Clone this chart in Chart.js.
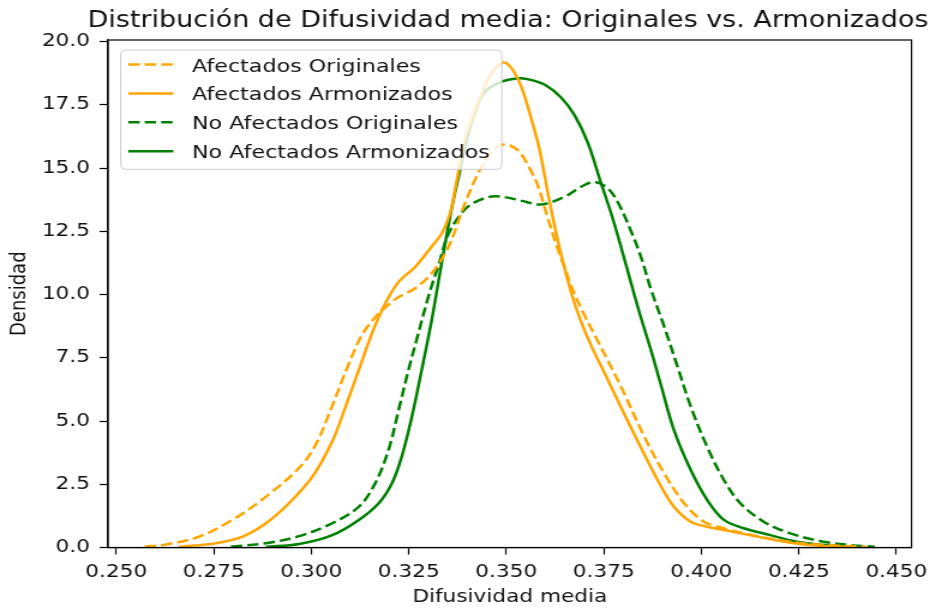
<!DOCTYPE html>
<html>
<head>
<meta charset="utf-8">
<script src="https://cdn.jsdelivr.net/npm/chart.js@4.4.1/dist/chart.umd.min.js"></script>
<style>
html,body{margin:0;padding:0;background:#fff;overflow:hidden}
</style>
</head>
<body>
<canvas id="c" width="780" height="608" style="display:block;width:936px;height:608px"></canvas>
<script>
// ---- texts ----
const titleText = 'Distribución de Difusividad media: Originales vs. Armonizados';
const xTitle = 'Difusividad media';
const yTitle = 'Densidad';
const seriesLabels = ['Afectados Originales', 'Afectados Armonizados', 'No Afectados Originales', 'No Afectados Armonizados'];

// ---- tick values ----
const xTicks = [0.250, 0.275, 0.300, 0.325, 0.350, 0.375, 0.400, 0.425, 0.450];
const yTicks = [0.0, 2.5, 5.0, 7.5, 10.0, 12.5, 15.0, 17.5, 20.0];

// ---- series ----
const aoX = [0.2573,0.2628,0.2713,0.2798,0.2884,0.2969,0.3011,0.3050,0.3096,0.3130,0.3164,0.3198,0.3224,0.3267,0.3309,0.3352,0.3394,0.3428,0.3454,0.3471,0.3500,0.3530,0.3556,0.3581,0.3607,0.3632,0.3650,0.3670,0.3700,0.3730,0.3760,0.3794,0.3854,0.3905,0.3956,0.4007,0.4058,0.4143,0.4228,0.4313,0.4424];
const aoY = [0.03,0.12,0.43,1.09,2.01,3.15,4.05,5.45,7.25,8.40,9.10,9.60,9.90,10.25,10.84,11.89,13.60,14.80,15.45,15.78,15.93,15.70,15.10,14.30,13.00,11.80,11.05,10.20,9.20,8.30,7.40,6.36,4.38,2.93,1.75,1.02,0.76,0.45,0.23,0.10,0.03];

const aaX = [0.2660,0.2756,0.2824,0.2884,0.2943,0.3003,0.3054,0.3088,0.3122,0.3156,0.3190,0.3224,0.3267,0.3309,0.3335,0.3356,0.3373,0.3394,0.3428,0.3462,0.3492,0.3513,0.3539,0.3564,0.3585,0.3610,0.3635,0.3666,0.3690,0.3720,0.3752,0.3786,0.3837,0.3888,0.3930,0.3973,0.4015,0.4058,0.4143,0.4228,0.4313,0.4398];
const aaY = [0.02,0.17,0.43,0.96,1.75,2.80,4.20,5.57,7.02,8.47,9.65,10.50,11.10,11.90,12.42,13.21,14.50,16.11,17.56,18.74,19.17,18.96,18.20,16.95,15.75,13.75,11.95,10.10,9.00,7.90,6.90,5.80,4.20,2.67,1.61,1.02,0.82,0.69,0.43,0.19,0.06,0.02];

const noX = [0.2794,0.2884,0.2969,0.3054,0.3122,0.3164,0.3198,0.3224,0.3249,0.3270,0.3301,0.3326,0.3352,0.3390,0.3420,0.3462,0.3500,0.3540,0.3590,0.3650,0.3692,0.3726,0.3760,0.3786,0.3820,0.3845,0.3871,0.3905,0.3939,0.3973,0.4015,0.4058,0.4100,0.4160,0.4228,0.4313,0.4381,0.4445];
const noY = [0.03,0.17,0.45,0.96,1.61,2.54,3.85,5.43,7.00,8.20,9.95,11.15,12.40,13.30,13.65,13.87,13.84,13.70,13.56,13.87,14.26,14.45,14.20,13.65,12.50,11.50,10.20,8.73,7.15,5.57,3.98,2.67,1.75,1.02,0.56,0.23,0.10,0.03];

const naX = [0.2884,0.2969,0.3054,0.3122,0.3173,0.3207,0.3232,0.3258,0.3283,0.3309,0.3335,0.3360,0.3382,0.3400,0.3420,0.3445,0.3488,0.3535,0.3564,0.3600,0.3640,0.3675,0.3709,0.3743,0.3769,0.3794,0.3820,0.3845,0.3871,0.3896,0.3930,0.3973,0.4015,0.4058,0.4109,0.4177,0.4245,0.4313,0.4381];
const naY = [0.03,0.14,0.49,1.09,1.75,2.54,3.59,5.17,7.00,9.00,11.30,13.40,14.95,16.20,17.20,18.00,18.41,18.55,18.48,18.28,17.80,17.09,16.00,14.40,13.20,11.89,10.45,9.10,7.80,6.45,4.64,3.06,1.88,1.09,0.76,0.49,0.23,0.10,0.03];

const ORANGE = '#ffa500';
const GREEN = '#008000';
const DASH = [9.5, 4.2];
const FONT = 'DejaVu Sans';

const toPts = (xs, ys) => xs.map((x, i) => ({x: x, y: ys[i]}));

const datasets = [
  {label: seriesLabels[0], data: toPts(aoX, aoY), borderColor: ORANGE, borderDash: DASH},
  {label: seriesLabels[1], data: toPts(aaX, aaY), borderColor: ORANGE, borderDash: []},
  {label: seriesLabels[2], data: toPts(noX, noY), borderColor: GREEN, borderDash: DASH},
  {label: seriesLabels[3], data: toPts(naX, naY), borderColor: GREEN, borderDash: []}
].map(d => Object.assign({
  borderWidth: 2.5, pointRadius: 0, pointHoverRadius: 0, fill: false,
  tension: 0.35, borderCapStyle: 'butt', borderJoinStyle: 'round'
}, d));

// frame, in-plot legend and title (matplotlib style)
const decor = {
  id: 'decor',
  afterDatasetsDraw(chart) {
    const ctx = chart.ctx, a = chart.chartArea;
    ctx.save();
    ctx.strokeStyle = '#000';
    ctx.lineWidth = 1.2;
    ctx.strokeRect(a.left, a.top, a.right - a.left, a.bottom - a.top);

    // legend box
    const bx = 100.6, by = 50, bw = 317.6, bh = 119.3, r = 4;
    ctx.beginPath();
    ctx.moveTo(bx + r, by);
    ctx.arcTo(bx + bw, by, bx + bw, by + bh, r);
    ctx.arcTo(bx + bw, by + bh, bx, by + bh, r);
    ctx.arcTo(bx, by + bh, bx, by, r);
    ctx.arcTo(bx, by, bx + bw, by, r);
    ctx.closePath();
    ctx.fillStyle = 'rgba(255,255,255,0.8)';
    ctx.fill();
    ctx.strokeStyle = '#cccccc';
    ctx.lineWidth = 1;
    ctx.stroke();

    ctx.font = '18.5px "' + FONT + '"';
    ctx.textBaseline = 'alphabetic';
    ctx.textAlign = 'left';
    chart.data.datasets.forEach((ds, i) => {
      const cy = 64.5 + i * 28.9;
      ctx.beginPath();
      ctx.setLineDash(ds.borderDash || []);
      ctx.strokeStyle = ds.borderColor;
      ctx.lineWidth = ds.borderWidth;
      ctx.lineCap = 'butt';
      ctx.moveTo(106.9, cy);
      ctx.lineTo(144.4, cy);
      ctx.stroke();
      ctx.setLineDash([]);
      ctx.fillStyle = '#111';
      ctx.fillText(ds.label, 160, cy + 7.0);
    });
    ctx.restore();
  },
  afterDraw(chart) {
    const ctx = chart.ctx, a = chart.chartArea;
    ctx.save();
    ctx.font = '22.5px "' + FONT + '"';
    ctx.fillStyle = '#111';
    ctx.textAlign = 'center';
    ctx.textBaseline = 'alphabetic';
    ctx.fillText(titleText, (a.left + a.right) / 2 - 1.5, 26.7);
    ctx.restore();
  }
};

const chart = new Chart(document.getElementById('c'), {
  type: 'line',
  data: {datasets: datasets},
  plugins: [decor],
  options: {
    responsive: false,
    animation: false,
    devicePixelRatio: 1,
    layout: {padding: {top: 40, right: 17.5, bottom: 0, left: 0}},
    plugins: {
      legend: {display: false},
      tooltip: {enabled: false},
      title: {display: false}
    },
    scales: {
      x: {
        type: 'linear', min: 0.2479, max: 0.4539,
        afterBuildTicks: s => { s.ticks = xTicks.map(v => ({value: v})); },
        afterFit: s => { s.height = 60.5; },
        ticks: {
          callback: v => Number(v).toFixed(3), autoSkip: false, maxRotation: 0,
          color: '#111', padding: 7, font: {family: FONT, size: 18}
        },
        grid: {display: true, drawOnChartArea: false, drawTicks: true, tickLength: 7, tickColor: '#000', tickWidth: 1.2},
        border: {display: true, color: '#000', width: 1.2},
        title: {display: true, text: xTitle, color: '#111', font: {family: FONT, size: 18}, padding: {top: 0, bottom: 0}}
      },
      y: {
        type: 'linear', min: 0, max: 20.06,
        afterBuildTicks: s => { s.ticks = yTicks.map(v => ({value: v})); },
        afterFit: s => { s.width = 90; },
        ticks: {
          callback: v => Number(v).toFixed(1), autoSkip: false,
          color: '#111', padding: 8, font: {family: FONT, size: 18}
        },
        grid: {display: true, drawOnChartArea: false, drawTicks: true, tickLength: 7, tickColor: '#000', tickWidth: 1.2},
        border: {display: true, color: '#000', width: 1.2},
        title: {display: true, text: yTitle, color: '#111', font: {family: FONT, size: 18}, padding: {top: 5.5, bottom: 0}}
      }
    }
  }
});
chart.canvas.style.width = '936px';
chart.canvas.style.height = '608px';
</script>
</body>
</html>
